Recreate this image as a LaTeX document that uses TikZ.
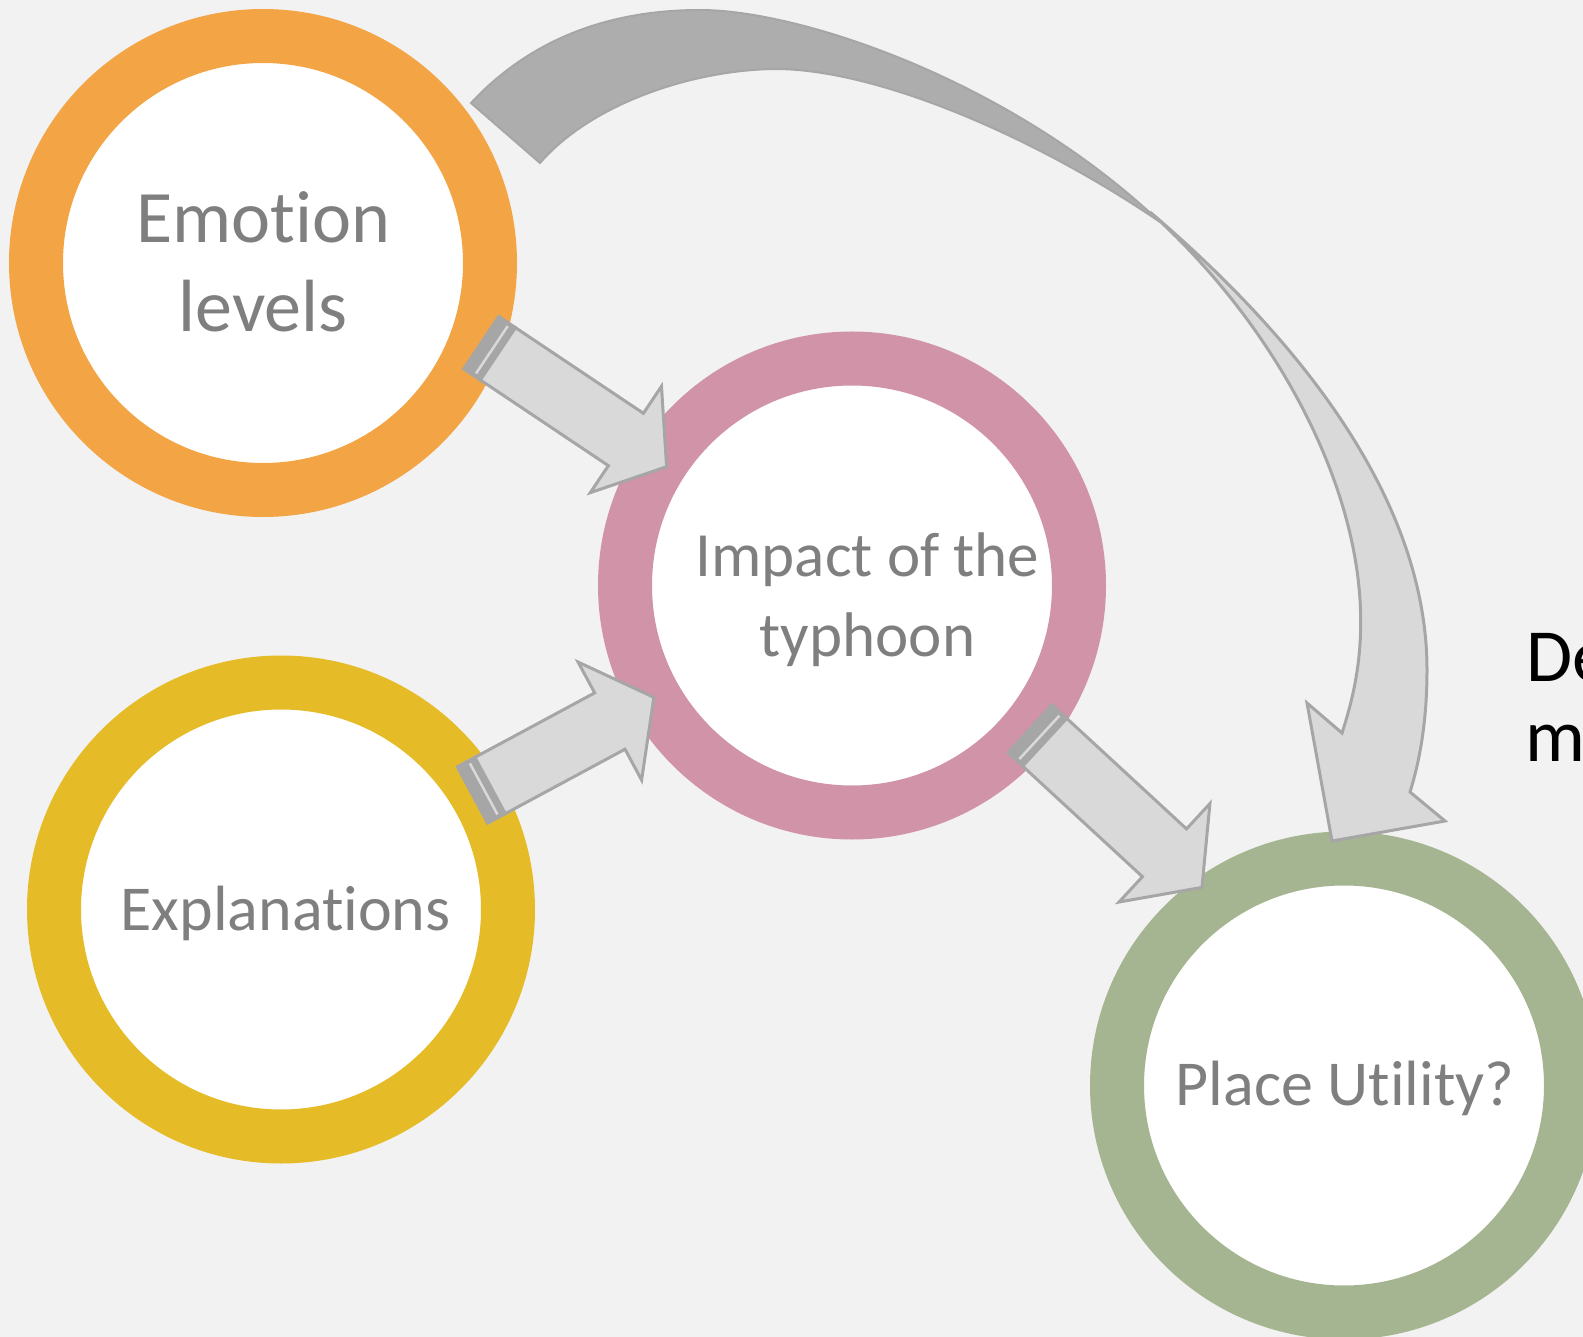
\documentclass[tikz,border=0pt]{standalone}
\usepackage{fontspec}
\setmainfont{Carlito}[Ligatures={NoCommon,NoRare,NoDiscretionary}]
\usetikzlibrary{calc}
\definecolor{bgc}{HTML}{F2F2F2}
\definecolor{ringorange}{HTML}{F3A546}
\definecolor{ringpink}{HTML}{D193A7}
\definecolor{ringyellow}{HTML}{E5BC28}
\definecolor{ringgreen}{HTML}{A6B591}
\definecolor{txtgray}{HTML}{7F7F7F}
\definecolor{arrfill}{HTML}{D9D9D9}
\definecolor{arrline}{HTML}{A6A6A6}
\definecolor{arrback}{HTML}{ADADAD}
\tikzset{
  ring/.style={circle, draw=#1, fill=white, line width=54pt, minimum size=454pt, inner sep=0pt},
  lbl/.style={anchor=base, inner sep=0pt, text=txtgray},
  arrowbody/.style={fill=arrfill, draw=arrline, line width=3pt, line join=miter},
  pics/stripearrow/.style n args={4}{code={
    \filldraw[fill=arrline, draw=arrline, line width=3pt] (0,-#2) rectangle (20,#2);
    \fill[arrfill] (11.5,{-#2+3}) rectangle (14,{#2-3});
    \path[arrowbody] (20,-#2) -- ({#1-#4},-#2) -- ({#1-#4},-#3) -- (#1,0) -- ({#1-#4},#3) -- ({#1-#4},#2) -- (20,#2) -- cycle;
  }}
}
\begin{document}
\begin{tikzpicture}[x=1pt,y=-1pt]
\useasboundingbox (0,0) rectangle (1583,1337);
\fill[bgc] (0,0) rectangle (1583,1337);
\clip (0,0) rectangle (1583,1337);

% rings
\node[ring=ringorange] (emo) at (263,263) {};
\node[ring=ringpink] (imp) at (852,585.5) {};
\node[ring=ringyellow] (exp) at (281,909.5) {};
\node[ring=ringgreen] (pla) at (1344,1085.5) {};

% labels
\node[lbl, font=\fontsize{74}{89}\selectfont] (emo1) at (263,242.7) {Emotion};
\node[lbl, font=\fontsize{74}{89}\selectfont] (emo2) at (263,331.7) {levels};
\node[lbl, font=\fontsize{63}{76}\selectfont] (imp1) at (867.5,576) {Impact of the};
\node[lbl, font=\fontsize{63}{76}\selectfont] (imp2) at (867.5,656.7) {typhoon};
\node[lbl, font=\fontsize{64}{77}\selectfont] (exp1) at (285.7,930.9) {Explanations};
\node[lbl, font=\fontsize{64}{77}\selectfont] (pla1) at (1345,1105.5) {Place Utility?};
\node[anchor=base west, inner sep=0pt, font=\fontsize{75}{90}\selectfont] (side1) at (1526,681.7) {De};
\node[anchor=base west, inner sep=0pt, font=\fontsize{75}{90}\selectfont] (side2) at (1525,761.7) {m};

% straight striped arrows
\coordinate (a1s) at (481.3,342.7);
\coordinate (a2s) at (472.5,795);
\coordinate (a3s) at (1030,728.7);
\pic[rotate=-33.8] at (a1s) {stripearrow={223}{31.5}{64}{49}};
\pic[rotate=28.3] at (a2s) {stripearrow={206}{32}{67}{50}};
\pic[rotate=-42.7] at (a3s) {stripearrow={234}{32.5}{67}{51}};

% curved arrow: back part
\coordinate (cA) at (471,103);
\coordinate (cB) at (540,163);
\coordinate (cC) at (1160,222);
\filldraw[fill=arrback, draw=arrline, line width=2pt, line join=miter]
  (cA) .. controls (525,45) and (600,10) .. (700,10)
       .. controls (800,10) and (1010,80) .. (cC)
       .. controls (1040,140) and (880,69) .. (775,69)
       .. controls (690,70) and (590,105) .. (cB) -- cycle;
% curved arrow: front part
\coordinate (cD) at (1150,212);
\coordinate (cT) at (1332,841);
\filldraw[arrowbody]
  (cD) .. controls (1300,340) and (1427,500) .. (1427,670)
       .. controls (1427,720) and (1420,760) .. (1410,792)
  -- (1445,821) -- (cT) -- (1307,703) -- (1342,733)
       .. controls (1356,690) and (1363,650) .. (1360,600)
       .. controls (1352,470) and (1270,320) .. (cD) -- cycle;
\end{tikzpicture}
\end{document}
